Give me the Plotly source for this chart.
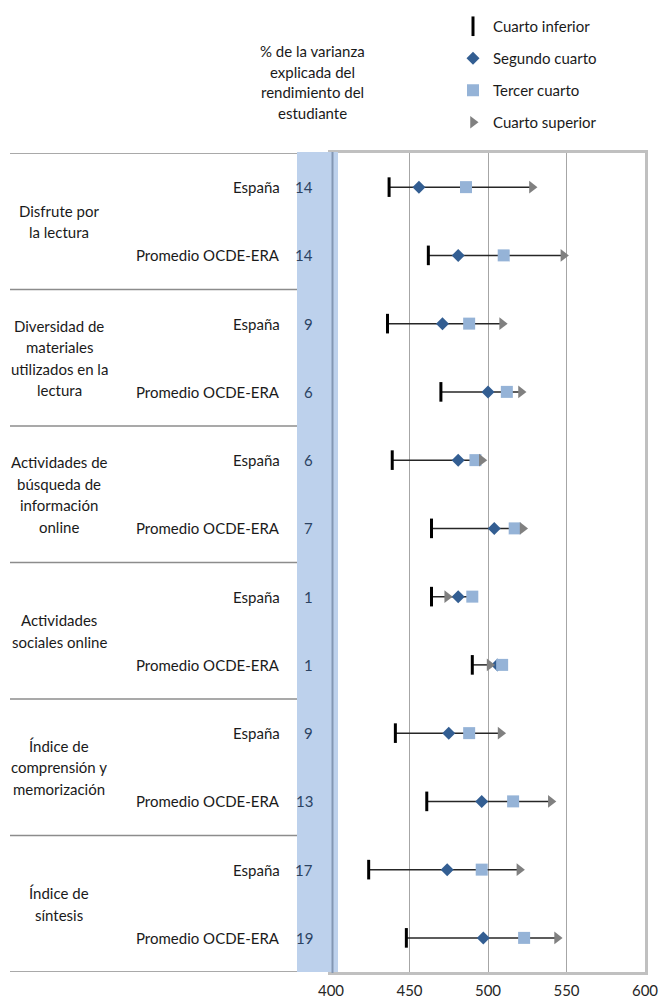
import plotly.graph_objects as go

# ---------------- data ----------------
groups = [
    "Disfrute por<br>la lectura",
    "Diversidad de<br>materiales<br>utilizados en la<br>lectura",
    "Actividades de<br>búsqueda de<br>información<br>online",
    "Actividades<br>sociales online",
    "Índice de<br>comprensión y<br>memorización",
    "Índice de<br>síntesis",
]
countries = ["España", "Promedio OCDE-ERA"]
varianza = [14, 14, 9, 6, 6, 7, 1, 1, 9, 13, 17, 19]
inferior = [437, 462, 436, 470, 439, 464, 464, 490, 441, 461, 424, 448]
segundo = [456, 481, 471, 500, 481, 504, 481, 506, 475, 496, 474, 497]
tercero = [486, 510, 488, 512, 492, 517, 490, 509, 488, 516, 496, 523]
superior = [528, 548, 509, 521, 496, 522, 474, 501, 508, 540, 520, 544]
x_ticks = [400, 450, 500, 550, 600]
header = "% de la varianza<br>explicada del<br>rendimiento del<br>estudiante"

W, H = 660, 1005
FONT = "Lato"
FS = 15
n_rows = len(varianza)
rows = list(range(n_rows))

def px_x(p):
    return p / W

def px_y(p):
    return 1 - p / H

fig = go.Figure()

# high-low lines
lx, ly = [], []
for i in rows:
    vals = [inferior[i], segundo[i], tercero[i], superior[i]]
    lx += [min(vals), max(vals), None]
    ly += [i, i, None]
fig.add_trace(go.Scatter(x=lx, y=ly, mode="lines", line=dict(color="#262626", width=1.5),
                         showlegend=False, hoverinfo="skip"))

fig.add_trace(go.Scatter(x=inferior, y=rows, mode="markers", name="Cuarto inferior",
                         legendgroup="a",
                         marker=dict(symbol="line-ns", size=14, line=dict(color="black", width=3))))
fig.add_trace(go.Scatter(x=segundo, y=rows, mode="markers", name="Segundo cuarto",
                         legendgroup="b",
                         marker=dict(symbol="diamond", size=10, color="#335E92", line=dict(width=0))))
fig.add_trace(go.Scatter(x=tercero, y=rows, mode="markers", name="Tercer cuarto",
                         legendgroup="c",
                         marker=dict(symbol="square", size=12, color="#95B3D7", line=dict(width=0))))
fig.add_trace(go.Scatter(x=superior, y=rows, mode="markers", name="Cuarto superior",
                         legendgroup="d",
                         marker=dict(symbol="triangle-right", size=11, color="#808080", line=dict(width=0))))

shapes = []
annotations = []

# blue band for % column
shapes.append(dict(type="rect", xref="paper", yref="paper",
                   x0=px_x(297), x1=px_x(338), y0=px_y(972), y1=px_y(152),
                   fillcolor="#BDD1EC", line=dict(width=0), layer="above"))
shapes.append(dict(type="line", xref="paper", yref="paper",
                   x0=px_x(332.5), x1=px_x(332.5), y0=px_y(973), y1=px_y(152),
                   line=dict(color="#8397B3", width=2), layer="above"))

# separators of the left table
for g in range(len(groups) + 1):
    yv = 2 * g - 0.5
    shapes.append(dict(type="line", xref="paper", yref="y",
                       x0=px_x(10), x1=px_x(297), y0=yv, y1=yv,
                       line=dict(color="#8C8C8C", width=1.5)))

# group labels
LS = 21.5
for g, lab in enumerate(groups):
    lines = lab.split("<br>")
    n = len(lines)
    for k, t in enumerate(lines):
        annotations.append(dict(xref="paper", yref="y", x=px_x(59), y=2 * g + 0.5,
                                text=t, showarrow=False, xanchor="center", yanchor="middle",
                                yshift=((n - 1) / 2 - k) * LS,
                                font=dict(family=FONT, size=FS, color="#1a1a1a")))

# country labels and variance values
for i in rows:
    annotations.append(dict(xref="paper", yref="y", x=px_x(282), y=i,
                            text=countries[i % 2], showarrow=False, xanchor="right",
                            yanchor="middle", font=dict(family=FONT, size=FS, color="#1a1a1a")))
    annotations.append(dict(xref="paper", yref="y", x=px_x(315), y=i,
                            text=str(varianza[i]), showarrow=False, xanchor="right",
                            yanchor="middle", font=dict(family=FONT, size=FS, color="#2B4363")))

# header
for k, t in enumerate(header.split("<br>")):
    annotations.append(dict(xref="paper", yref="paper", x=px_x(312), y=px_y(51 + 20.7 * k),
                            text=t, showarrow=False, xanchor="center", yanchor="middle",
                            font=dict(family=FONT, size=FS, color="#1a1a1a")))

fig.update_layout(
    width=W, height=H, autosize=False,
    margin=dict(l=0, r=0, t=0, b=0, pad=0, autoexpand=False),
    paper_bgcolor="white", plot_bgcolor="white",
    hovermode=False,
    font=dict(family=FONT, size=FS, color="#1a1a1a"),
    shapes=shapes, annotations=annotations,
    legend=dict(x=px_x(453), y=px_y(10), xanchor="left", yanchor="top",
                traceorder="grouped", tracegroupgap=9.5,
                font=dict(family=FONT, size=FS, color="#1a1a1a"),
                bgcolor="rgba(0,0,0,0)"),
    xaxis=dict(range=[400, 600], domain=[px_x(331), px_x(645)], tickvals=x_ticks,
               showgrid=True, gridcolor="#A6A6A6", gridwidth=1, zeroline=False,
               showline=True, mirror=True, linecolor="#C0C0C0", linewidth=3,
               ticks="", ticklabelstandoff=3, automargin=False,
               tickfont=dict(family=FONT, size=FS, color="#262626")),
    yaxis=dict(range=[n_rows - 0.5, -0.5], domain=[px_y(972), px_y(153)],
               showticklabels=False, showgrid=False, zeroline=False, automargin=False,
               showline=True, mirror=True, linecolor="#C0C0C0", linewidth=3, ticks=""),
)

# remove the default 8px page margin so the figure fills the window exactly
fig.write_html("out.html", config={"displayModeBar": False, "staticPlot": True},
               post_script="document.body.style.margin='0';document.body.style.overflow='hidden';")
